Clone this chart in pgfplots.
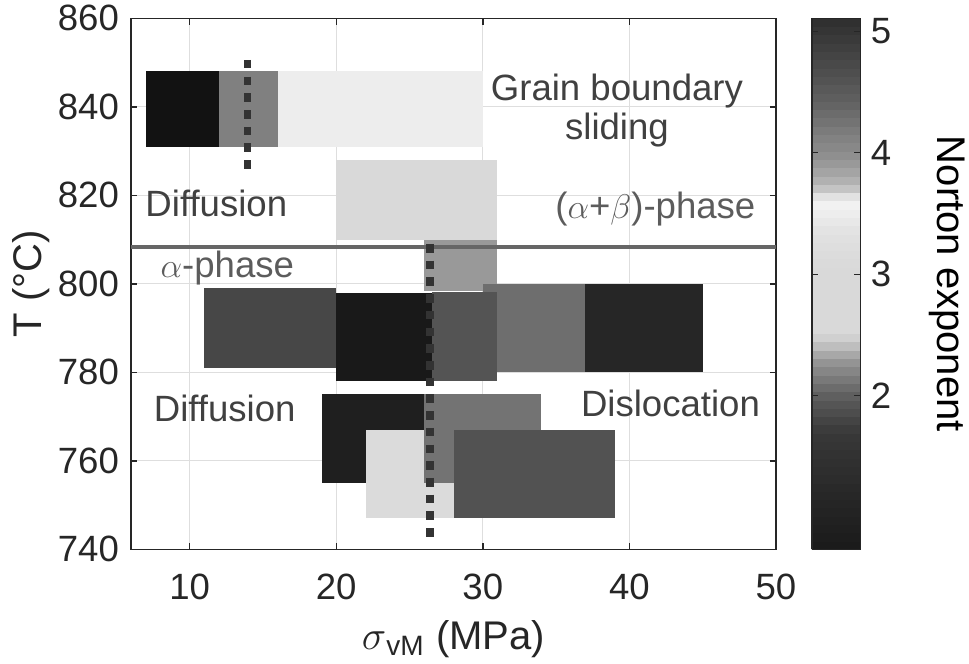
\documentclass[border=0pt]{standalone}
\usepackage{fontspec}
\setmainfont{Liberation Sans}
\usepackage{pgfplots}
\pgfplotsset{compat=1.18}

\definecolor{axgray}{gray}{0.15}
\definecolor{txtgray}{gray}{0.25}
\definecolor{phgray}{gray}{0.36}
\definecolor{gridgray}{gray}{0.87}
\definecolor{dotgray}{gray}{0.2}

\begin{document}
\begin{tikzpicture}
\begin{axis}[
  name=main, at={(0,0)}, anchor=south west,
  scale only axis, width=225.75pt, height=185.85pt,
  xmin=6, xmax=50, ymin=740, ymax=860,
  xtick={10,20,30,40,50},
  ytick={740,760,780,800,820,840,860},
  tick align=inside, major tick length=2.2pt,
  grid=major, major grid style={gridgray, line width=0.4pt},
  axis line style={axgray, line width=0.5pt},
  every tick/.style={axgray, line width=0.5pt},
  tick label style={font=\fontsize{12.8}{15}\selectfont, text=axgray},
  /pgf/number format/assume math mode=true,
  /pgf/number format/1000 sep={},
  xticklabel style={yshift=-5pt},
  yticklabel style={xshift=-0.7pt},
  label style={font=\fontsize{14}{17}\selectfont, text=axgray},
  xlabel={$\sigma$\textsubscript{vM} (MPa)},
  ylabel={T (°C)},
  xlabel style={at={(axis description cs:0.5,-0.188)}, anchor=base},
  ylabel style={at={(axis description cs:-0.155,0.5)}, anchor=center},
  colormap={norton}{
    gray(74pt)=(0.10); gray(116pt)=(0.15); gray(170pt)=(0.22); gray(197pt)=(0.35);
    gray(211pt)=(0.45); gray(230pt)=(0.60); gray(244pt)=(0.78); gray(252pt)=(0.85);
    gray(306pt)=(0.85); gray(333pt)=(0.88); gray(350pt)=(0.93); gray(361pt)=(0.95);
    gray(366pt)=(0.85); gray(374pt)=(0.72); gray(388pt)=(0.62); gray(400pt)=(0.55);
    gray(415pt)=(0.50); gray(442pt)=(0.38); gray(469pt)=(0.30); gray(511pt)=(0.18)},
  point meta min=0.735, point meta max=5.107,
  colorbar sampled,
  colorbar style={
    at={(parent axis.north east)}, anchor=north west, xshift=4pt,
    width=17.1pt,
    samples=65,
    ytick={2,3,4,5},
    tick align=inside, major tick length=2.2pt,
    axis line style={axgray, line width=0.5pt},
    every tick/.style={axgray, line width=0.5pt},
    yticklabel style={font=\fontsize{12.8}{15}\selectfont, text=axgray},
    /pgf/number format/assume math mode=true,
    ylabel={Norton exponent},
    ylabel style={font=\fontsize{14}{17}\selectfont, text=black,
      at={(axis description cs:2.57,0.5)}, anchor=base, rotate=180},
  },
]

% beta-phase region, top row
\addplot[fill={rgb,1:red,0.07;green,0.07;blue,0.07}, draw=none] coordinates {(7,831) (12,831) (12,848) (7,848)} --cycle;
\addplot[fill={rgb,1:red,0.50;green,0.50;blue,0.50}, draw=none] coordinates {(12,831) (16,831) (16,848) (12,848)} --cycle;
\addplot[fill={rgb,1:red,0.93;green,0.93;blue,0.93}, draw=none] coordinates {(16,831) (30,831) (30,848) (16,848)} --cycle;
\addplot[fill={rgb,1:red,0.85;green,0.85;blue,0.85}, draw=none] coordinates {(20,810) (31,810) (31,828) (20,828)} --cycle;
\addplot[fill={rgb,1:red,0.60;green,0.60;blue,0.60}, draw=none] coordinates {(26,798.4) (31,798.4) (31,810) (26,810)} --cycle;

% alpha-phase, around 790
\addplot[fill={rgb,1:red,0.28;green,0.28;blue,0.28}, draw=none] coordinates {(11,781) (20,781) (20,799) (11,799)} --cycle;
\addplot[fill={rgb,1:red,0.10;green,0.10;blue,0.10}, draw=none] coordinates {(20,778) (26.5,778) (26.5,798) (20,798)} --cycle;
\addplot[fill={rgb,1:red,0.43;green,0.43;blue,0.43}, draw=none] coordinates {(30,780) (37,780) (37,800) (30,800)} --cycle;
\addplot[fill={rgb,1:red,0.15;green,0.15;blue,0.15}, draw=none] coordinates {(37,780) (45,780) (45,800) (37,800)} --cycle;
\addplot[fill={rgb,1:red,0.33;green,0.33;blue,0.33}, draw=none] coordinates {(26.5,778) (31,778) (31,798.2) (26.5,798.2)} --cycle;

% alpha-phase, around 760
\addplot[fill={rgb,1:red,0.12;green,0.12;blue,0.12}, draw=none] coordinates {(19,755) (26,755) (26,775) (19,775)} --cycle;
\addplot[fill={rgb,1:red,0.86;green,0.86;blue,0.86}, draw=none] coordinates {(22,747) (28,747) (28,767) (22,767)} --cycle;
\addplot[fill={rgb,1:red,0.45;green,0.45;blue,0.45}, draw=none] coordinates {(26,755) (34,755) (34,775) (26,775)} --cycle;
\addplot[fill={rgb,1:red,0.32;green,0.32;blue,0.32}, draw=none] coordinates {(28,747) (39,747) (39,767) (28,767)} --cycle;

% phase boundary and transition stresses
\addplot[draw={rgb,1:red,0.4;green,0.4;blue,0.4}, line width=1.6pt] coordinates {(6,808.3) (50,808.3)};
\addplot[draw=dotgray, line width=2.6pt, dash pattern=on 3pt off 2.85pt] coordinates {(13.94,850.6) (13.94,825.2)};
\addplot[draw=dotgray, line width=2.6pt, dash pattern=on 3pt off 2.85pt] coordinates {(26.4,809) (26.4,741.4)};

% region labels
\begin{scope}[every node/.style={inner sep=0pt, font=\fontsize{12.8}{15}\selectfont, text=txtgray}]
\node[anchor=base] at (axis cs:39.15,841.5) {Grain boundary};
\node[anchor=base] at (axis cs:39.15,832.5) {sliding};
\node[anchor=base west] at (axis cs:6.95,815.2) {Diffusion};
\node[anchor=base east, text=phgray] at (axis cs:48.63,814.8) {($\alpha$+$\beta$)-phase};
\node[anchor=base west, text=phgray] at (axis cs:7.98,801.4) {$\alpha$-phase};
\node[anchor=base west] at (axis cs:7.52,768.8) {Diffusion};
\node[anchor=base] at (axis cs:42.8,770.0) {Dislocation};
\end{scope}

\end{axis}
\pgfresetboundingbox
\path[use as bounding box] (-45.85pt,-39.8pt) rectangle (293.3pt,192.26pt);
\end{tikzpicture}
\end{document}
